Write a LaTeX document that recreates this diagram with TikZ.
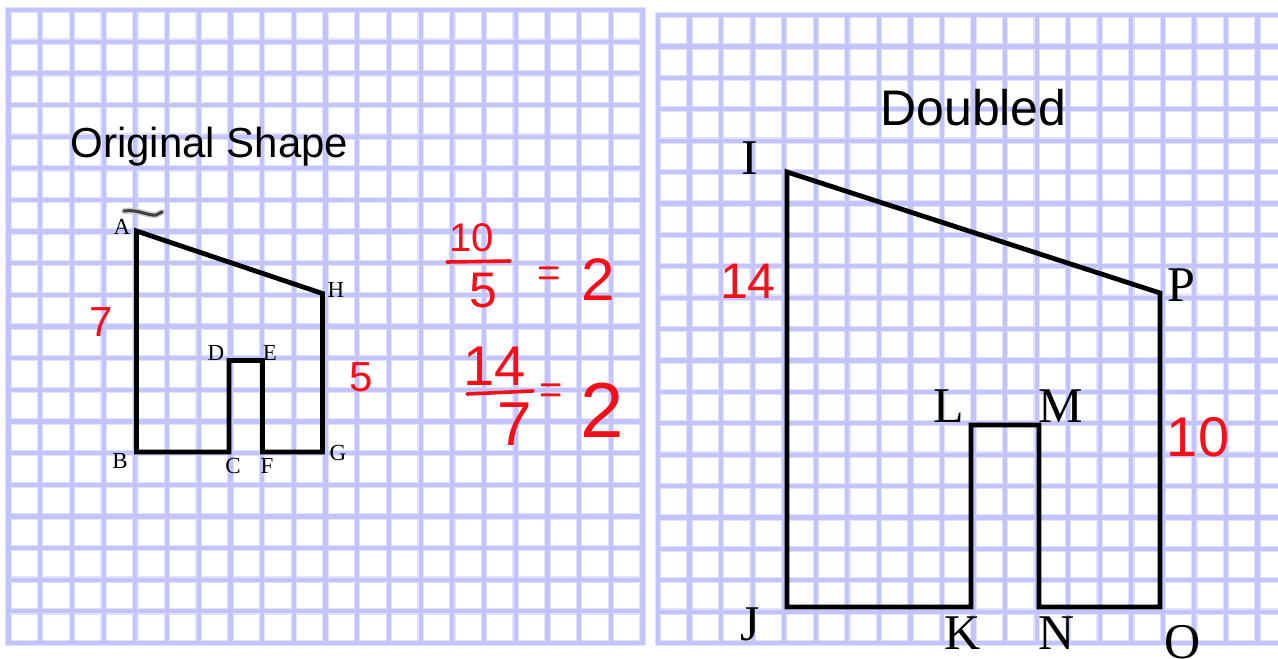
\documentclass[tikz,border=0pt]{standalone}
\usepackage{fontspec}
\setmainfont{Liberation Serif}
\newfontfamily\titlefont{Liberation Sans}
\newfontfamily\handfont{Liberation Sans}
\definecolor{gridc}{RGB}{196,196,252}
\definecolor{gridh}{RGB}{226,226,255}
\definecolor{pen}{RGB}{245,15,25}
\begin{document}
\begin{tikzpicture}[x=1pt,y=-1pt,
  gridline/.style={line width=6.5pt, gridh, line cap=rect},
  gridcore/.style={line width=4.2pt, gridc, line cap=rect},
  shapeline/.style={line width=4.8pt, black, line join=miter},
  smalllab/.style={font=\fontsize{23}{23}\selectfont, inner sep=0},
  biglab/.style={font=\fontsize{50}{50}\selectfont, inner sep=0},
  titletext/.style={inner sep=0, anchor=base},
  hand/.style={font=\handfont\fontsize{42}{42}\selectfont, text=pen, inner sep=0},
  handbar/.style={line width=3.6pt, pen, line cap=round}]

\useasboundingbox (0,0) rectangle (1278,659);
\fill[white] (0,0) rectangle (1278,659);

\begin{scope}
\clip (0,0) rectangle (1278,659);
% left grid
\foreach \i in {0,...,20} {
  \draw[gridline] ({8.5+31.7*\i},10) -- ({8.5+31.7*\i},643);
  \draw[gridline] (8.5,{10+31.65*\i}) -- (642.5,{10+31.65*\i});
}
\foreach \i in {0,...,20} {
  \draw[gridcore] ({8.5+31.7*\i},10) -- ({8.5+31.7*\i},643);
  \draw[gridcore] (8.5,{10+31.65*\i}) -- (642.5,{10+31.65*\i});
}
% right grid
\foreach \i in {0,...,20} {
  \draw[gridline] ({658+31.55*\i},15) -- ({658+31.55*\i},643);
  \draw[gridline] (658,{15+31.4*\i}) -- (1300,{15+31.4*\i});
}
\foreach \i in {0,...,20} {
  \draw[gridcore] ({658+31.55*\i},15) -- ({658+31.55*\i},643);
  \draw[gridcore] (658,{15+31.4*\i}) -- (1300,{15+31.4*\i});
}
\end{scope}

% titles
\node[titletext, font=\titlefont\fontsize{42}{42}\selectfont] (t1) at (209.5,157) {Original Shape};
\node[titletext, font=\titlefont\fontsize{50}{50}\selectfont] (t2) at (973.5,125) {Doubled};

% original shape
\coordinate (A) at (136.5,231);
\coordinate (H) at (322.5,293.5);
\coordinate (G) at (322.5,452);
\coordinate (F) at (262.5,452);
\coordinate (E) at (262.5,360.5);
\coordinate (D) at (229,360.5);
\coordinate (C) at (229,452);
\coordinate (B) at (136.5,452);
\draw[shapeline] (A) -- (H) -- (G) -- (F) -- (E) -- (D) -- (C) -- (B) -- cycle;

\node[smalllab] (lA) at (122,227) {A};
\node[smalllab] (lB) at (120,461) {B};
\node[smalllab] (lC) at (233,466) {C};
\node[smalllab] (lF) at (267,466) {F};
\node[smalllab] (lG) at (338,453) {G};
\node[smalllab] (lH) at (336,290) {H};
\node[smalllab] (lD) at (216,353) {D};
\node[smalllab] (lE) at (270,353) {E};

% grey mark above A
\coordinate (m1) at (124,211);
\coordinate (m2) at (156,215);
\coordinate (m3) at (162,212);
\draw[line width=6pt, gray!40, line cap=round, line join=round] (m1) .. controls (138,209) and (148,216) .. (m2) -- (m3);
\draw[line width=3pt, black!75, line cap=round, line join=round] (m1) .. controls (138,209) and (148,216) .. (m2) -- (m3);

% doubled shape
\coordinate (I) at (787,172);
\coordinate (J) at (787,607);
\coordinate (K) at (971,607);
\coordinate (L) at (971,425);
\coordinate (M) at (1039,425);
\coordinate (N) at (1039,607);
\coordinate (O) at (1160,607);
\coordinate (P) at (1160,293);
\draw[shapeline] (I) -- (P) -- (O) -- (N) -- (M) -- (L) -- (K) -- (J) -- cycle;

\node[biglab] (lI) at (750,158) {I};
\node[biglab] (lJ) at (750,624) {J};
\node[biglab] (lK) at (963,633) {K};
\node[biglab] (lL) at (949,406) {L};
\node[biglab] (lM) at (1061,406) {M};
\node[biglab] (lN) at (1057,633) {N};
\node[biglab] (lO) at (1183,642) {O};
\node[biglab] (lP) at (1181,285) {P};

% red handwriting
\node[hand] (h7) at (101,322) {7};
\node[hand] (h5) at (361,377) {5};
\node[hand, font=\handfont\fontsize{50}{50}\selectfont] (h14) at (748,281) {14};
\node[hand, font=\handfont\fontsize{56}{56}\selectfont] (h10) at (1198,437) {10};

\node[hand, font=\handfont\fontsize{40}{40}\selectfont] (f1n) at (472,238) {10};
\coordinate (b1a) at (447,262);
\coordinate (b1b) at (510,261);
\draw[handbar] (b1a) -- (b1b);
\node[hand, font=\handfont\fontsize{50}{50}\selectfont] (f1d) at (483,291) {5};
\node[hand, font=\handfont\fontsize{40}{40}\selectfont] (f1e) at (549,277) {=};
\node[hand, font=\handfont\fontsize{60}{60}\selectfont] (f1r) at (598,280) {2};

\node[hand, font=\handfont\fontsize{56}{56}\selectfont] (f2n) at (495,366) {14};
\coordinate (b2a) at (467,394);
\coordinate (b2b) at (533,391);
\draw[handbar] (b2a) -- (b2b);
\node[hand, font=\handfont\fontsize{62}{62}\selectfont] (f2d) at (515,424) {7};
\node[hand, font=\handfont\fontsize{40}{40}\selectfont] (f2e) at (551,394) {=};
\node[hand, font=\handfont\fontsize{78}{78}\selectfont] (f2r) at (602,410) {2};
\end{tikzpicture}
\end{document}
